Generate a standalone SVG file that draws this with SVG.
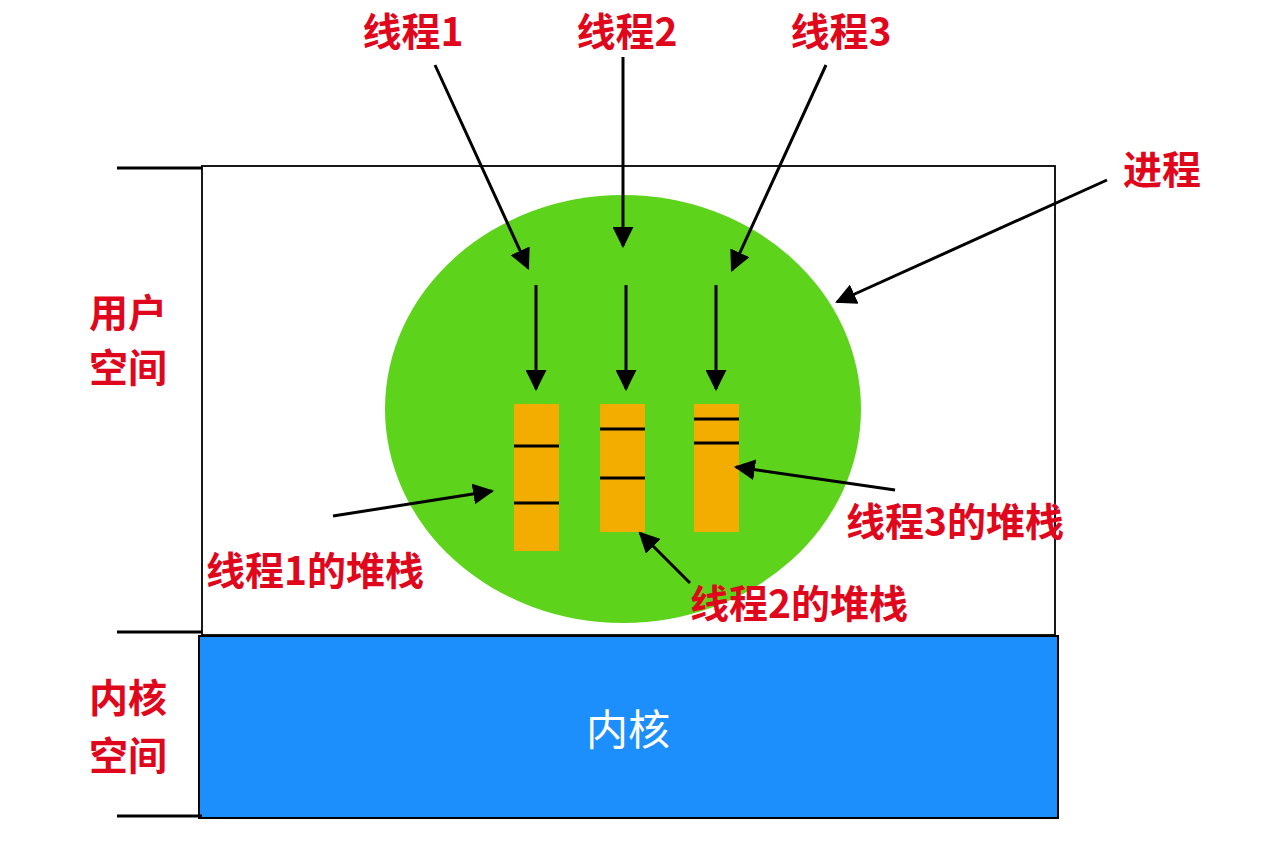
<svg xmlns="http://www.w3.org/2000/svg" width="1286" height="850" viewBox="0 0 1286 850">
<defs>
<marker id="ah" viewBox="0 0 10 10" refX="9" refY="5" markerWidth="7" markerHeight="7" markerUnits="strokeWidth" orient="auto"><path d="M0,0 L10,5 L0,10 z" fill="#000"/></marker>
<style>
.lbl{font-family:"Noto Sans CJK SC","Liberation Sans",sans-serif;font-weight:bold;font-size:39px;fill:#e0061c}
.arr{stroke:#000;stroke-width:3;fill:none;marker-end:url(#ah)}
.stk{fill:#f3ad00}
.bar{stroke:#000;stroke-width:3}
.brk{stroke:#000;stroke-width:3}
</style>
</defs>
<rect width="1286" height="850" fill="#fff"/>
<g id="user-space"><rect x="202" y="166" width="853" height="469" fill="#fff" stroke="#000" stroke-width="1.8"/></g>
<g id="kernel"><rect x="199" y="636" width="859" height="182" fill="#1c8ffc" stroke="#000" stroke-width="2"/>
<text x="628" y="745" text-anchor="middle" style="font-family:'Noto Sans CJK SC','Liberation Sans',sans-serif;font-size:42px;fill:#fff">内核</text></g>
<g id="brackets">
<line class="brk" x1="117" y1="168" x2="202" y2="168"/>
<line class="brk" x1="117" y1="632" x2="202" y2="632"/>
<line class="brk" x1="117" y1="816" x2="202" y2="816"/>
</g>
<g id="process"><ellipse cx="623" cy="409" rx="238" ry="214" fill="#5dd41b"/></g>
<g id="stack1"><rect class="stk" x="514" y="404" width="45" height="147"/><line class="bar" x1="514" y1="446" x2="559" y2="446"/><line class="bar" x1="514" y1="503" x2="559" y2="503"/></g>
<g id="stack2"><rect class="stk" x="600" y="404" width="45" height="128"/><line class="bar" x1="600" y1="429" x2="645" y2="429"/><line class="bar" x1="600" y1="478" x2="645" y2="478"/></g>
<g id="stack3"><rect class="stk" x="694" y="404" width="45" height="128"/><line class="bar" x1="694" y1="419" x2="739" y2="419"/><line class="bar" x1="694" y1="443" x2="739" y2="443"/></g>
<g id="connectors">
<line class="arr" x1="435" y1="65" x2="528" y2="268"/>
<line class="arr" x1="623" y1="57" x2="623" y2="246"/>
<line class="arr" x1="826" y1="65" x2="732" y2="270"/>
<line class="arr" x1="536" y1="285" x2="536" y2="389"/>
<line class="arr" x1="626" y1="285" x2="626" y2="389"/>
<line class="arr" x1="716" y1="285" x2="716" y2="389"/>
<line class="arr" x1="1107" y1="180" x2="837" y2="302"/>
<line class="arr" x1="333" y1="516" x2="492" y2="491"/>
<line class="arr" x1="690" y1="583" x2="640" y2="533"/>
<line class="arr" x1="895" y1="490" x2="736" y2="467"/>
</g>
<g id="labels">
<text class="lbl" x="413" y="46" text-anchor="middle">线程1</text>
<text class="lbl" x="627" y="46" text-anchor="middle">线程2</text>
<text class="lbl" x="841" y="46" text-anchor="middle">线程3</text>
<text class="lbl" x="1162" y="184" text-anchor="middle">进程</text>
<text class="lbl" x="128" y="327" text-anchor="middle">用户</text>
<text class="lbl" x="128" y="382" text-anchor="middle">空间</text>
<text class="lbl" x="128" y="712" text-anchor="middle">内核</text>
<text class="lbl" x="128" y="770" text-anchor="middle">空间</text>
<text class="lbl" x="315" y="585" text-anchor="middle">线程1的堆栈</text>
<text class="lbl" x="799" y="618" text-anchor="middle">线程2的堆栈</text>
<text class="lbl" x="955" y="536" text-anchor="middle">线程3的堆栈</text>
</g>
</svg>
